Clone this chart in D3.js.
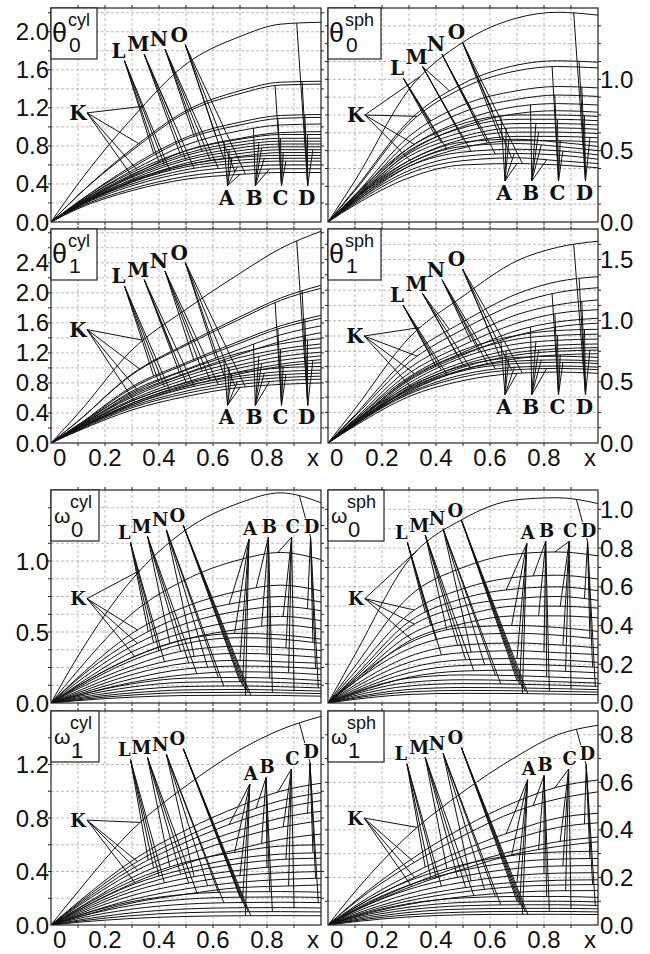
<!DOCTYPE html>
<html>
<head>
<meta charset="utf-8">
<script src="https://cdn.jsdelivr.net/npm/d3@7"></script>
<style>
  body { margin: 0; background: #fff; }
  text { font-family: 'Liberation Sans', Arial, sans-serif; fill: #111; }
  .lbl { font-family: 'DejaVu Serif', 'Liberation Mono', serif; font-weight: bold; }
</style>
</head>
<body>
<svg id="chart" width="650" height="954"></svg>
<script>
// x positions where the curves were read (value at x=0 is always 0)
const xs = [0, 0.1, 0.3, 0.5, 0.7, 0.85, 1.0];

// curve values at xs[1..], 20 curves per panel
const theta0Cyl = [
  [0.40,1.09,1.66,1.95,2.08,2.10],[0.28,0.77,1.17,1.38,1.47,1.48],[0.28,0.75,1.15,1.35,1.44,1.45],
  [0.21,0.59,0.89,1.05,1.12,1.13],[0.21,0.57,0.87,1.02,1.09,1.10],[0.20,0.54,0.81,0.96,1.02,1.03],
  [0.18,0.49,0.75,0.88,0.94,0.95],[0.20,0.52,0.75,0.87,0.92,0.92],[0.19,0.50,0.72,0.84,0.88,0.88],
  [0.19,0.48,0.70,0.81,0.85,0.85],[0.18,0.47,0.67,0.78,0.82,0.82],[0.17,0.45,0.65,0.75,0.79,0.79],
  [0.17,0.43,0.62,0.72,0.76,0.76],[0.16,0.42,0.60,0.69,0.73,0.73],[0.18,0.44,0.60,0.68,0.70,0.70],
  [0.17,0.42,0.58,0.65,0.67,0.67],[0.17,0.40,0.55,0.62,0.64,0.64],[0.16,0.38,0.52,0.58,0.60,0.60],
  [0.15,0.35,0.48,0.54,0.56,0.56],[0.14,0.33,0.45,0.50,0.52,0.52]
];
const theta0Sph = [
  [0.29,0.93,1.26,1.43,1.47,1.45],[0.23,0.71,0.97,1.10,1.13,1.12],[0.22,0.69,0.94,1.06,1.09,1.08],
  [0.19,0.60,0.82,0.92,0.95,0.94],[0.18,0.56,0.77,0.86,0.89,0.88],[0.17,0.52,0.71,0.81,0.83,0.82],
  [0.16,0.49,0.67,0.76,0.78,0.77],[0.19,0.52,0.69,0.75,0.75,0.74],[0.18,0.50,0.66,0.72,0.72,0.71],
  [0.17,0.48,0.63,0.69,0.69,0.68],[0.16,0.46,0.60,0.66,0.66,0.65],[0.16,0.43,0.58,0.63,0.63,0.62],
  [0.15,0.41,0.55,0.60,0.60,0.59],[0.14,0.39,0.52,0.57,0.57,0.56],[0.17,0.43,0.56,0.58,0.56,0.53],
  [0.16,0.41,0.53,0.55,0.53,0.50],[0.15,0.39,0.49,0.51,0.50,0.47],[0.14,0.36,0.46,0.48,0.47,0.44],
  [0.13,0.34,0.43,0.45,0.43,0.41],[0.12,0.31,0.40,0.41,0.40,0.38]
];
const theta1Cyl = [
  [0.39,1.24,1.78,2.26,2.59,2.82],[0.29,0.92,1.32,1.68,1.93,2.10],[0.29,0.91,1.30,1.65,1.90,2.06],
  [0.24,0.75,1.07,1.36,1.56,1.70],[0.23,0.73,1.05,1.33,1.53,1.66],[0.22,0.69,0.98,1.25,1.44,1.56],
  [0.21,0.65,0.93,1.18,1.35,1.47],[0.24,0.67,0.97,1.20,1.32,1.39],[0.22,0.63,0.92,1.14,1.25,1.32],
  [0.22,0.61,0.89,1.09,1.21,1.27],[0.21,0.58,0.85,1.04,1.15,1.21],[0.20,0.56,0.81,1.00,1.10,1.16],
  [0.19,0.53,0.78,0.95,1.05,1.11],[0.18,0.51,0.75,0.92,1.02,1.07],[0.20,0.56,0.80,0.94,1.00,1.02],
  [0.19,0.53,0.76,0.89,0.95,0.97],[0.19,0.51,0.73,0.86,0.91,0.93],[0.18,0.49,0.69,0.82,0.87,0.89],
  [0.17,0.47,0.66,0.78,0.83,0.85],[0.16,0.44,0.62,0.74,0.78,0.80]
];
const theta1Sph = [
  [0.28,0.86,1.20,1.49,1.60,1.65],[0.23,0.71,0.99,1.22,1.32,1.36],[0.22,0.66,0.93,1.14,1.23,1.27],
  [0.20,0.61,0.85,1.05,1.13,1.17],[0.19,0.57,0.80,0.98,1.06,1.09],[0.17,0.53,0.74,0.92,0.99,1.02],
  [0.17,0.51,0.72,0.88,0.95,0.98],[0.19,0.54,0.76,0.88,0.92,0.93],[0.18,0.52,0.73,0.85,0.88,0.89],
  [0.17,0.49,0.70,0.81,0.84,0.85],[0.16,0.47,0.66,0.77,0.80,0.81],[0.16,0.45,0.64,0.74,0.77,0.78],
  [0.15,0.44,0.62,0.72,0.75,0.76],[0.15,0.42,0.60,0.69,0.72,0.73],[0.18,0.46,0.63,0.70,0.71,0.70],
  [0.17,0.44,0.60,0.67,0.68,0.67],[0.16,0.43,0.59,0.65,0.66,0.65],[0.16,0.41,0.56,0.62,0.63,0.62],
  [0.15,0.40,0.54,0.60,0.61,0.60],[0.14,0.38,0.51,0.57,0.58,0.57]
];
const omega0Cyl = [
  [0.33,0.87,1.22,1.41,1.48,1.41],[0.23,0.63,0.87,1.01,1.06,1.01],[0.18,0.49,0.68,0.79,0.83,0.79],
  [0.17,0.44,0.62,0.71,0.75,0.71],[0.15,0.40,0.56,0.65,0.68,0.65],[0.13,0.36,0.50,0.58,0.61,0.58],
  [0.12,0.32,0.45,0.52,0.55,0.52],[0.12,0.32,0.45,0.49,0.48,0.45],[0.11,0.30,0.42,0.46,0.45,0.42],
  [0.10,0.26,0.37,0.40,0.39,0.37],[0.084,0.23,0.32,0.35,0.34,0.32],[0.072,0.20,0.28,0.30,0.29,0.28],
  [0.062,0.17,0.24,0.26,0.255,0.24],[0.053,0.145,0.20,0.22,0.215,0.20],[0.054,0.135,0.175,0.18,0.173,0.158],
  [0.045,0.113,0.146,0.15,0.144,0.132],[0.036,0.09,0.116,0.12,0.115,0.106],[0.029,0.071,0.092,0.095,0.091,0.084],
  [0.023,0.056,0.073,0.075,0.072,0.066],[0.017,0.041,0.053,0.055,0.053,0.048]
];
const omega0Sph = [
  [0.25,0.74,0.95,1.05,1.06,1.03],[0.19,0.55,0.70,0.77,0.78,0.76],[0.16,0.46,0.59,0.65,0.66,0.64],
  [0.14,0.42,0.54,0.59,0.60,0.58],[0.13,0.39,0.50,0.54,0.55,0.53],[0.12,0.35,0.45,0.50,0.50,0.49],
  [0.11,0.32,0.41,0.45,0.45,0.44],[0.12,0.31,0.39,0.40,0.39,0.37],[0.11,0.28,0.35,0.36,0.35,0.33],
  [0.093,0.24,0.30,0.31,0.30,0.285],[0.081,0.21,0.26,0.27,0.26,0.25],[0.069,0.18,0.223,0.23,0.223,0.21],
  [0.06,0.156,0.194,0.20,0.194,0.184],[0.051,0.133,0.165,0.17,0.165,0.156],[0.055,0.128,0.145,0.141,0.133,0.125],
  [0.046,0.106,0.12,0.116,0.11,0.103],[0.038,0.088,0.10,0.097,0.092,0.086],[0.03,0.07,0.08,0.078,0.074,0.069],
  [0.025,0.057,0.065,0.063,0.06,0.056],[0.019,0.044,0.05,0.049,0.046,0.043]
];
const omega1Cyl = [
  [0.25,0.71,1.04,1.31,1.46,1.56],[0.17,0.48,0.71,0.89,1.00,1.06],[0.16,0.45,0.66,0.83,0.93,0.99],
  [0.15,0.42,0.62,0.78,0.87,0.93],[0.14,0.39,0.57,0.71,0.80,0.85],[0.125,0.355,0.52,0.655,0.73,0.78],
  [0.11,0.31,0.46,0.57,0.64,0.68],[0.12,0.33,0.47,0.55,0.59,0.60],[0.11,0.30,0.42,0.50,0.53,0.54],
  [0.10,0.275,0.39,0.46,0.49,0.50],[0.09,0.25,0.35,0.41,0.44,0.45],[0.08,0.22,0.31,0.37,0.39,0.40],
  [0.07,0.19,0.27,0.32,0.34,0.35],[0.06,0.165,0.23,0.28,0.29,0.30],[0.07,0.175,0.23,0.248,0.25,0.245],
  [0.059,0.147,0.193,0.208,0.21,0.206],[0.048,0.119,0.156,0.168,0.17,0.167],[0.036,0.091,0.12,0.129,0.13,0.127],
  [0.028,0.07,0.092,0.099,0.10,0.098],[0.02,0.049,0.064,0.069,0.07,0.069]
];
const omega1Sph = [
  [0.14,0.38,0.56,0.71,0.80,0.84],[0.10,0.27,0.41,0.52,0.58,0.61],[0.095,0.25,0.375,0.48,0.53,0.56],
  [0.08,0.21,0.315,0.40,0.45,0.47],[0.073,0.19,0.29,0.365,0.41,0.43],[0.063,0.167,0.25,0.315,0.35,0.37],
  [0.06,0.158,0.235,0.30,0.33,0.35],[0.074,0.186,0.254,0.295,0.307,0.31],[0.067,0.168,0.23,0.266,0.277,0.28],
  [0.06,0.15,0.205,0.238,0.248,0.25],[0.053,0.132,0.18,0.209,0.218,0.22],[0.046,0.114,0.156,0.18,0.188,0.19],
  [0.041,0.102,0.139,0.162,0.168,0.17],[0.035,0.087,0.119,0.138,0.144,0.145],[0.038,0.09,0.114,0.12,0.12,0.116],
  [0.032,0.075,0.095,0.10,0.10,0.097],[0.027,0.064,0.081,0.085,0.085,0.082],[0.022,0.053,0.067,0.07,0.07,0.068],
  [0.018,0.043,0.054,0.057,0.057,0.055],[0.014,0.034,0.043,0.045,0.045,0.044]
];

const letters = ['K','L','M','N','O','A','B','C','D'];
const xTickVals = [0, 0.2, 0.4, 0.6, 0.8, 1.0];
const xTickText = ['0', '0.2', '0.4', '0.6', '0.8', 'x'];

// which curve each leader line points to, and at which x
const thetaLeaders = [
  [[0,0.34],[2,0.33],[7,0.32],[12,0.31]],
  [[3,0.38],[6,0.40],[10,0.42],[15,0.44]],
  [[1,0.45],[8,0.48],[11,0.50],[16,0.53]],
  [[4,0.53],[9,0.56],[13,0.59],[17,0.62]],
  [[5,0.61],[14,0.64],[18,0.68],[19,0.72]],
  [[6,0.64],[10,0.66],[14,0.67],[17,0.69],[19,0.70]],
  [[5,0.75],[9,0.77],[11,0.78],[15,0.79],[18,0.81]],
  [[2,0.83],[4,0.84],[8,0.85],[13,0.86],[16,0.87]],
  [[0,0.91],[1,0.93],[3,0.94],[7,0.95],[12,0.97]]
];
const omegaLeaders = [
  [[0,0.33],[2,0.32],[4,0.32],[6,0.31]],
  [[3,0.36],[5,0.38],[8,0.40],[10,0.42]],
  [[7,0.44],[9,0.48],[11,0.51],[13,0.54]],
  [[10,0.53],[12,0.58],[14,0.62],[16,0.64]],
  [[15,0.70],[16,0.71],[17,0.72],[18,0.73],[19,0.74]],
  [[3,0.66],[7,0.68],[11,0.70],[15,0.71],[19,0.72]],
  [[2,0.76],[6,0.78],[10,0.80],[14,0.81],[18,0.82]],
  [[1,0.84],[5,0.86],[9,0.87],[13,0.88],[17,0.90]],
  [[0,0.92],[4,0.95],[8,0.97],[12,0.98],[16,0.99]]
];

// label places: x in data units, y as fraction of the panel height
const labelPlaces = {
  th0cyl: [[0.10,0.51],[0.25,0.80],[0.323,0.83],[0.40,0.855],[0.475,0.875],[0.65,0.114],[0.753,0.114],[0.85,0.114],[0.947,0.114]],
  th0sph: [[0.103,0.50],[0.256,0.72],[0.328,0.773],[0.40,0.83],[0.476,0.886],[0.652,0.136],[0.751,0.136],[0.85,0.136],[0.95,0.136]],
  th1cyl: [[0.10,0.53],[0.25,0.78],[0.323,0.81],[0.40,0.85],[0.475,0.89],[0.65,0.12],[0.753,0.12],[0.85,0.12],[0.947,0.12]],
  th1sph: [[0.10,0.50],[0.256,0.69],[0.328,0.745],[0.40,0.81],[0.476,0.86],[0.652,0.17],[0.751,0.17],[0.85,0.17],[0.95,0.17]],
  om0cyl: [[0.10,0.49],[0.272,0.80],[0.335,0.83],[0.405,0.86],[0.468,0.88],[0.737,0.82],[0.809,0.83],[0.895,0.83],[0.965,0.83]],
  om0sph: [[0.103,0.49],[0.272,0.80],[0.338,0.835],[0.404,0.865],[0.472,0.905],[0.74,0.80],[0.81,0.81],[0.897,0.81],[0.965,0.81]],
  om1cyl: [[0.10,0.49],[0.272,0.82],[0.335,0.83],[0.405,0.845],[0.468,0.87],[0.74,0.71],[0.80,0.74],[0.894,0.78],[0.963,0.81]],
  om1sph: [[0.10,0.50],[0.270,0.80],[0.338,0.83],[0.404,0.85],[0.472,0.875],[0.743,0.73],[0.804,0.75],[0.895,0.78],[0.96,0.80]]
};

const cols = [[51, 321], [328, 598]];
const rows = [[8, 222], [229, 443], [490, 703], [711, 925]];

const panels = [
  {key:'th0cyl', sym:'θ', sub:'0', sup:'cyl', data:theta0Cyl, ymax:2.25, lab:0.4, grid:0.2, col:0, row:0, omega:false},
  {key:'th0sph', sym:'θ', sub:'0', sup:'sph', data:theta0Sph, ymax:1.5, lab:0.5, grid:0.125, col:1, row:0, omega:false},
  {key:'th1cyl', sym:'θ', sub:'1', sup:'cyl', data:theta1Cyl, ymax:2.85, lab:0.4, grid:0.2, col:0, row:1, omega:false},
  {key:'th1sph', sym:'θ', sub:'1', sup:'sph', data:theta1Sph, ymax:1.75, lab:0.5, grid:0.125, col:1, row:1, omega:false},
  {key:'om0cyl', sym:'ω', sub:'0', sup:'cyl', data:omega0Cyl, ymax:1.5, lab:0.5, grid:0.125, col:0, row:2, omega:true},
  {key:'om0sph', sym:'ω', sub:'0', sup:'sph', data:omega0Sph, ymax:1.1, lab:0.2, grid:0.1, col:1, row:2, omega:true},
  {key:'om1cyl', sym:'ω', sub:'1', sup:'cyl', data:omega1Cyl, ymax:1.6, lab:0.4, grid:0.2, col:0, row:3, omega:true},
  {key:'om1sph', sym:'ω', sub:'1', sup:'sph', data:omega1Sph, ymax:0.9, lab:0.2, grid:0.1, col:1, row:3, omega:true}
];

const svg = d3.select('#chart');
const fmt = d3.format('.1f');

// find the point of a drawn path at a given pixel x
let pointAtX = function (node, px) {
    let lo = 0, hi = node.getTotalLength();
    for (let k = 0; k < 32; k++) {
        const mid = (lo + hi) / 2;
        if (node.getPointAtLength(mid).x < px) lo = mid; else hi = mid;
    }
    return node.getPointAtLength(lo);
}

panels.forEach(function (p, pi) {
    const [x0, x1] = cols[p.col];
    const [yt, yb] = rows[p.row];
    const x = d3.scaleLinear().domain([0, 1]).range([x0, x1]);
    const y = d3.scaleLinear().domain([0, p.ymax]).range([yb, yt]);
    const g = svg.append('g');

    g.append('clipPath').attr('id', 'clip' + pi)
        .append('rect').attr('x', x0).attr('y', yt).attr('width', x1 - x0).attr('height', yb - yt);

    // grid
    const vgrid = d3.range(1, 10).map(d => d / 10);
    const hgrid = d3.range(p.grid, p.ymax - 1e-6, p.grid);
    g.selectAll('.vg').data(vgrid).enter().append('line')
        .attr('x1', d => x(d)).attr('x2', d => x(d)).attr('y1', yt).attr('y2', yb)
        .attr('stroke', '#aaa').attr('stroke-width', 0.8).attr('stroke-dasharray', '3,2');
    g.selectAll('.hg').data(hgrid).enter().append('line')
        .attr('x1', x0).attr('x2', x1).attr('y1', d => y(d)).attr('y2', d => y(d))
        .attr('stroke', '#aaa').attr('stroke-width', 0.8).attr('stroke-dasharray', '3,2');

    // outward ticks
    g.selectAll('.tb').data(vgrid).enter().append('path')
        .attr('d', d => `M${x(d)},${yt}v-3M${x(d)},${yb}v3`)
        .attr('stroke', '#222').attr('stroke-width', 1);
    g.selectAll('.tl').data(hgrid).enter().append('path')
        .attr('d', d => `M${x0},${y(d)}h-3M${x1},${y(d)}h3`)
        .attr('stroke', '#222').attr('stroke-width', 1);

    // curves
    const line = d3.line()
        .x((d, i) => x(xs[i]))
        .y(d => y(d))
        .curve(d3.curveMonotoneX);
    const paths = g.append('g').attr('clip-path', `url(#clip${pi})`)
        .selectAll('path')
        .data(p.data.map(r => [0].concat(r)))
        .enter()
        .append('path')
        .attr('d', line)
        .attr('fill', 'none')
        .attr('stroke', '#111')
        .attr('stroke-width', 1);
    const nodes = paths.nodes();

    // labels and leader lines
    const places = labelPlaces[p.key];
    const leaders = p.omega ? omegaLeaders : thetaLeaders;
    const lg = g.append('g');
    letters.forEach(function (t, li) {
        const cx = x(places[li][0]);
        const cy = yb - places[li][1] * (yb - yt);
        let ax, ay;
        if (li === 0) { ax = cx + 9; ay = cy; }
        else if (li < 5) { ax = cx + 6; ay = cy + 10; }
        else if (!p.omega) { ax = cx + 1; ay = cy - 12; }
        else { ax = cx - 1; ay = cy + 11; }
        leaders[li].forEach(function (tg) {
            const pt = pointAtX(nodes[tg[0]], x(tg[1]));
            lg.append('line')
                .attr('x1', ax).attr('y1', ay).attr('x2', pt.x).attr('y2', pt.y)
                .attr('stroke', '#111').attr('stroke-width', 1);
        });
        g.append('text').attr('class', 'lbl')
            .attr('x', cx).attr('y', cy)
            .attr('text-anchor', 'middle').attr('dominant-baseline', 'central')
            .attr('font-size', p.omega ? 18 : 20)
            .attr('stroke', '#fff').attr('stroke-width', 2).attr('paint-order', 'stroke')
            .text(t);
    });

    // frame
    g.append('rect').attr('x', x0).attr('y', yt).attr('width', x1 - x0).attr('height', yb - yt)
        .attr('fill', 'none').attr('stroke', '#222').attr('stroke-width', 1.2);

    // title box
    const bw = p.sup === 'cyl' ? (p.omega ? 48 : 46) : (p.omega ? 56 : 53);
    g.append('rect').attr('x', x0).attr('y', yt).attr('width', bw).attr('height', 51)
        .attr('fill', '#fff').attr('stroke', '#222').attr('stroke-width', 1.2);
    if (p.omega) {
        g.append('text').attr('x', x0 + 3).attr('y', yt + 33).attr('font-size', 21).text(p.sym);
        g.append('text').attr('x', x0 + 19).attr('y', yt + 18).attr('font-size', 18).text(p.sup);
        g.append('text').attr('x', x0 + 20).attr('y', yt + 47).attr('font-size', 22).text(p.sub);
    } else {
        g.append('text').attr('x', x0 + 1).attr('y', yt + 34).attr('font-size', 27).text(p.sym);
        g.append('text').attr('x', x0 + 17).attr('y', yt + 18).attr('font-size', 18).text(p.sup);
        g.append('text').attr('x', x0 + 18).attr('y', yt + 44).attr('font-size', 21).text(p.sub);
    }

    // y tick labels
    const yTicks = d3.range(0, p.ymax + 1e-6, p.lab).filter(d => y(d) - yt > 15);
    g.selectAll('.yl').data(yTicks).enter().append('text')
        .attr('x', p.col === 0 ? x0 - 2 : x1 + 2)
        .attr('y', d => y(d))
        .attr('text-anchor', p.col === 0 ? 'end' : 'start')
        .attr('dominant-baseline', 'central')
        .attr('font-size', 24)
        .text(d => fmt(d));

    // x tick labels under the 2nd and 4th rows
    if (p.row === 1 || p.row === 3) {
        g.selectAll('.xl').data(xTickVals).enter().append('text')
            .attr('x', (d, i) => i === 0 ? x(d) + 2 : (i === 5 ? x(d) - 2 : x(d)))
            .attr('y', yb + 14)
            .attr('text-anchor', (d, i) => i === 0 ? 'start' : (i === 5 ? 'end' : 'middle'))
            .attr('dominant-baseline', 'central')
            .attr('font-size', 24)
            .text((d, i) => xTickText[i]);
    }
});
</script>
</body>
</html>
